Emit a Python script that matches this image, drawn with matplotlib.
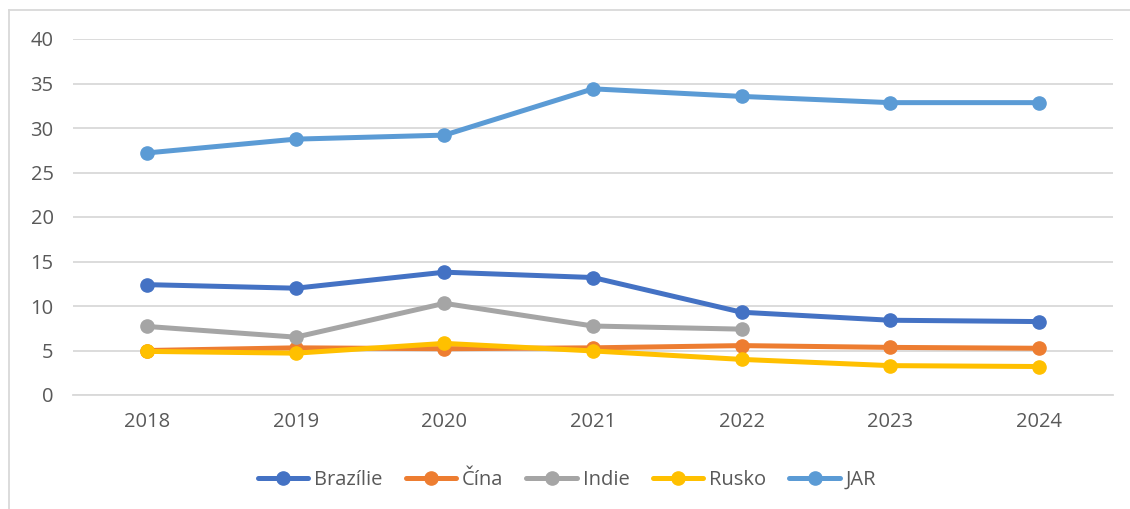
import matplotlib.pyplot as plt
from matplotlib.lines import Line2D

plt.rcParams['font.family'] = ['Open Sans', 'DejaVu Sans']

years = ["2018", "2019", "2020", "2021", "2022", "2023", "2024"]
brazilie = [12.4, 12.0, 13.8, 13.2, 9.3, 8.4, 8.25]
cina = [5.0, 5.3, 5.2, 5.3, 5.55, 5.35, 5.25]
indie = [7.7, 6.5, 10.3, 7.75, 7.4]
rusko = [4.9, 4.7, 5.8, 4.95, 4.0, 3.3, 3.2]
jar = [27.2, 28.75, 29.2, 34.4, 33.55, 32.85, 32.85]

series = [
    ("Brazílie", brazilie, "#4472C4"),
    ("Čína", cina, "#ED7D31"),
    ("Indie", indie, "#A5A5A5"),
    ("Rusko", rusko, "#FFC000"),
    ("JAR", jar, "#5B9BD5"),
]

fig = plt.figure(figsize=(11.3, 5.09), dpi=100)
ax = fig.add_axes([73 / 1130, 1 - 395 / 509, (1113 - 73) / 1130, (395 - 39) / 509])

x = list(range(len(years)))
for name, vals, col in series:
    ax.plot(x[:len(vals)], vals, color=col, lw=3.6, marker="o", ms=9.5,
            solid_capstyle="round", label=name, zorder=3)

ax.set_xlim(-0.5, len(years) - 0.5)
ax.set_ylim(0, 40)
ax.set_yticks(range(0, 41, 5))
ax.set_xticks(x)
ax.set_xticklabels(years)
ax.grid(axis="y", color="#d9d9d9", lw=1.3)
ax.set_axisbelow(True)
for s in ["top", "right", "left"]:
    ax.spines[s].set_visible(False)
ax.spines["bottom"].set_color("#d9d9d9")
ax.spines["bottom"].set_linewidth(1.3)
ax.tick_params(axis="both", length=0, labelsize=14.5, labelcolor="#595959")
ax.tick_params(axis="y", pad=14)
ax.tick_params(axis="x", pad=12)

# chart area frame (left and top edges)
fig.add_artist(Line2D([9 / 1130, 9 / 1130], [0, 1 - 10 / 509], color="#d9d9d9", lw=1.3))
fig.add_artist(Line2D([9 / 1130, 1], [1 - 10 / 509, 1 - 10 / 509], color="#d9d9d9", lw=1.3))

fig.legend(loc="center", bbox_to_anchor=(567 / 1130, 1 - 480 / 509), ncol=5,
           frameon=False, fontsize=14.5, labelcolor="#595959",
           handlelength=2.5, handletextpad=0.3, columnspacing=1.15)

fig.savefig("out.png", dpi=100)
